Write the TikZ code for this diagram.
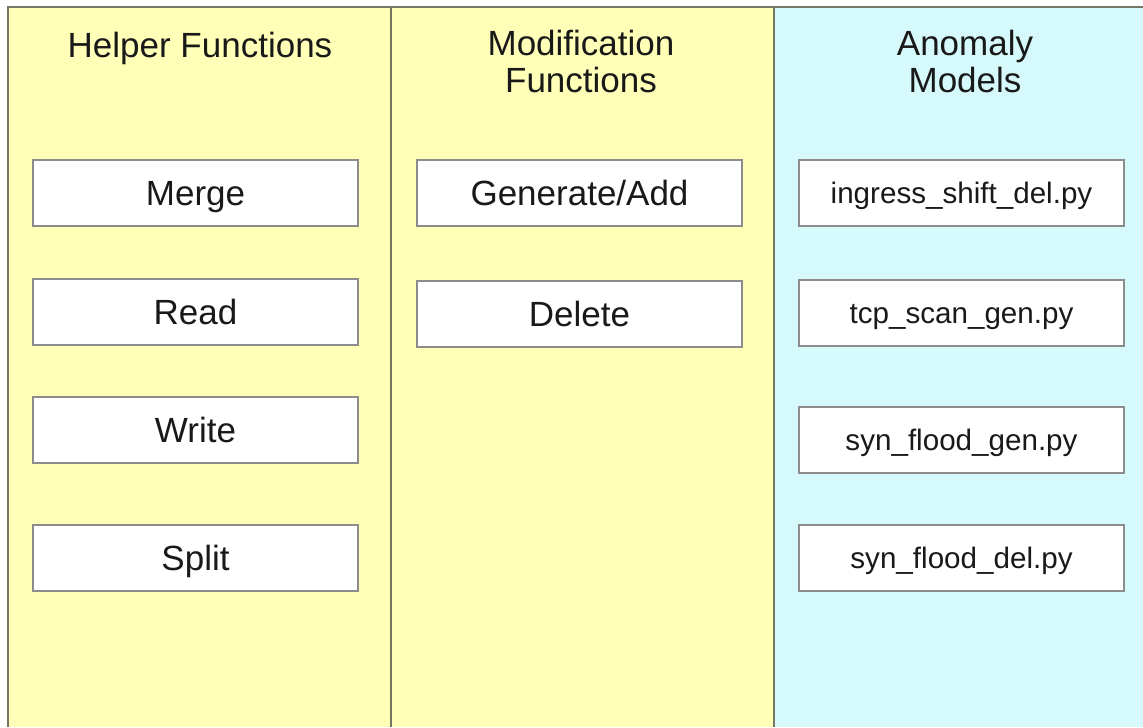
\documentclass[tikz,border=0pt]{standalone}
\usepackage{fontspec}
\setmainfont{Liberation Sans}
\usetikzlibrary{shadows}

\definecolor{paneyellow}{RGB}{255,255,184}
\definecolor{panecyan}{RGB}{214,249,252}
\definecolor{paneline}{RGB}{118,118,100}
\definecolor{boxline}{RGB}{140,140,140}

\begin{document}
\begin{tikzpicture}[x=0.5pt,y=-0.5pt,
  every node/.style={font=\fontsize{17.5}{18.5}\selectfont,text=black!90},
  head/.style={align=center,anchor=north,inner sep=0pt},
  fnbox/.style={draw=boxline,fill=white,line width=0.6pt,
    minimum width=162.5pt,minimum height=33pt,inner sep=0pt,
    text height=12.5pt,text depth=0pt,
    drop shadow={shadow xshift=0.5pt,shadow yshift=-0.7pt,opacity=0.35}},
  modbox/.style={fnbox,font=\fontsize{14.8}{17}\selectfont,text height=10.8pt}]
  \useasboundingbox (0,0) rectangle (1143,727);
  % the three panes
  \fill[paneyellow] (8,7) rectangle (774,727);
  \fill[panecyan] (774,7) rectangle (1143,727);
  \draw[paneline,line width=0.6pt] (8,727) -- (8,7) -- (1143,7);
  \foreach \x in {391,774} \draw[paneline,line width=0.6pt] (\x,7) -- (\x,727);
  % pane titles
  \node[head] (helpers) at (200,32) {Helper Functions};
  \node[head] (modfns) at (581,30) {Modification\\Functions};
  \node[head] (anomaly) at (965,30) {Anomaly\\Models};
  % helper functions
  \node[fnbox] (merge) at (195.5,193) {Merge};
  \node[fnbox] (read)  at (195.5,312) {Read};
  \node[fnbox] (write) at (195.5,430) {Write};
  \node[fnbox] (split) at (195.5,558) {Split};
  % modification functions
  \node[fnbox] (genadd) at (579.5,193) {Generate/Add};
  \node[fnbox] (delete) at (579.5,314) {Delete};
  % anomaly models
  \node[modbox] (ingress) at (961.5,193) {ingress\_shift\_del.py};
  \node[modbox] (tcpscan) at (961.5,313) {tcp\_scan\_gen.py};
  \node[modbox] (syngen)  at (961.5,440) {syn\_flood\_gen.py};
  \node[modbox] (syndel)  at (961.5,558) {syn\_flood\_del.py};
\end{tikzpicture}
\end{document}
